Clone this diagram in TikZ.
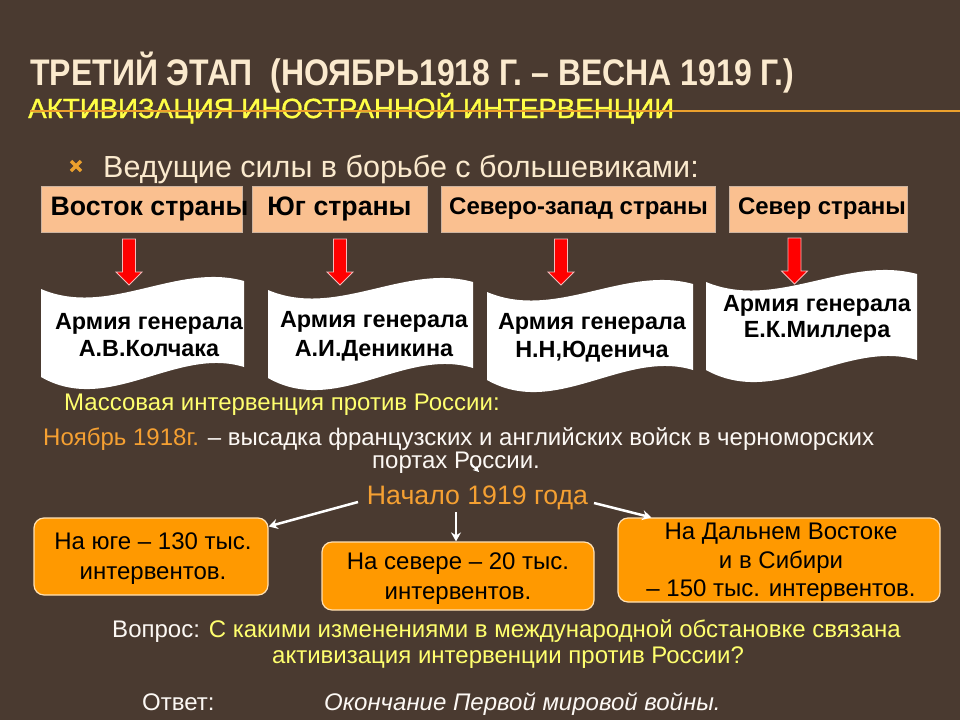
\documentclass[tikz,border=0pt]{standalone}
\usepackage{fontspec}
\setmainfont{Liberation Sans}
\newfontfamily\titlefont[FakeStretch=0.865]{Liberation Sans}
\newfontfamily\subtitlefont[FakeBold=1.2]{Liberation Sans}
\usetikzlibrary{arrows.meta}
\definecolor{bgc}{RGB}{74,58,48}
\definecolor{cream}{RGB}{251,234,206}
\definecolor{ttyel}{RGB}{255,255,70}
\definecolor{yel}{RGB}{255,255,110}
\definecolor{orline}{RGB}{235,160,45}
\definecolor{ortext}{RGB}{245,160,50}
\definecolor{peach}{RGB}{250,192,144}
\definecolor{regbd}{RGB}{205,180,160}
\definecolor{obox}{RGB}{255,153,0}
\definecolor{oboxbd}{RGB}{255,225,180}
\definecolor{wtext}{RGB}{252,248,244}
\definecolor{arrbd}{RGB}{245,185,185}
\newcommand\fsz[2]{\fontsize{#1}{#2}\selectfont}
\newcommand\myscroll[3]{\fill[white] (#1,#3) .. controls ({#1+#2/3},{#3+29}) and ({#1+2*#2/3},{#3-27}) .. ({#1+#2},{#3-8}) -- ({#1+#2},{#3+78}) .. controls ({#1+2*#2/3},{#3+57}) and ({#1+#2/3},{#3+127}) .. (#1,{#3+88}) -- cycle;}
\newcommand\redarrow[2]{\filldraw[fill=red, draw=arrbd, line width=0.8pt] ({#1-6.5},#2) -- ({#1+6.5},#2) -- ({#1+6.5},{#2+33}) -- ({#1+13},{#2+33}) -- (#1,{#2+46}) -- ({#1-13},{#2+33}) -- ({#1-6.5},{#2+33}) -- cycle;}
\tikzset{
  region/.style={draw=regbd, fill=peach, line width=0.8pt, minimum height=46pt, inner sep=0pt, text=black},
  stext/.style={anchor=north, inner sep=0pt, align=center, text=black, font=\bfseries\fsz{23.4}{27}},
  obx/.style={draw=oboxbd, fill=obox, line width=1.2pt, rounded corners=10pt, inner sep=0pt},
  otext/.style={anchor=north, inner sep=0pt, align=center, text=black, font=\fsz{24}{30}},
  plain/.style={inner sep=0pt, font=\fsz{24}{29}},
  warrow/.style={draw=white, line width=2.5pt, -{Stealth[length=9pt,width=10pt]}}
}
\begin{document}
\begin{tikzpicture}[x=1pt,y=-1pt]
\fill[bgc] (0,0) rectangle (960,720);
\useasboundingbox (0,0) rectangle (960,720);
% title
\node (t1) [anchor=base west, inner sep=0pt, text=cream, font=\titlefont\bfseries\fsz{37}{44}] at (30,85) {ТРЕТИЙ ЭТАП\ \ (НОЯБРЬ1918 Г. – ВЕСНА 1919 Г.)};
\node (t2) [anchor=base west, inner sep=0pt, text=ttyel, font=\subtitlefont\fsz{27.7}{34}] at (28,118) {АКТИВИЗАЦИЯ ИНОСТРАННОЙ ИНТЕРВЕНЦИИ};
\draw[orline, line width=2pt] (30,111) -- (960,111);
% bullet
\draw[orline, line width=3.5pt] (71,161) -- (81,171) (81,161) -- (71,171);
\node (lead) [anchor=base west, inner sep=0pt, text=cream, font=\fsz{30.5}{36}] at (103,177) {Ведущие силы в борьбе с большевиками:};
% regions
\node (e) [region, minimum width=201pt, font=\bfseries\fsz{26.7}{30}] at (141.5,209) {\makebox[180pt]{\hspace{16pt}Восток страны}};
\node (s) [region, minimum width=175pt, font=\bfseries\fsz{26.7}{30}] at (339.5,209) {Юг страны};
\node (nw) [region, minimum width=274pt, font=\bfseries\fsz{24}{28}] at (578.5,209) {Северо-запад страны};
\node (n) [region, minimum width=178pt, font=\bfseries\fsz{24}{28}] at (818,209) {\makebox[150pt]{\hspace{8pt}Север страны}};
% red arrows
\redarrow{129}{239}
\redarrow{340}{239}
\redarrow{561}{239}
\redarrow{794.5}{238}
% scrolls
\myscroll{41}{203}{289}
\myscroll{268}{205}{290}
\myscroll{487}{206}{292}
\myscroll{706}{211}{282}
\node (k1) [stext] at (149,313) {Армия генерала\\А.В.Колчака};
\node (k2) [stext, font=\bfseries\fsz{23.4}{29}] at (374,311) {Армия генерала\\А.И.Деникина};
\node (k3) [stext, font=\bfseries\fsz{23.4}{28}] at (592,313) {Армия генерала\\Н.Н,Юденича};
\node (k4) [stext, font=\bfseries\fsz{23.4}{26}] at (817,295) {Армия генерала\\Е.К.Миллера};
% text
\node (mass) [plain, anchor=base west, text=yel] at (64,410) {Массовая интервенция против России:};
\node (nov) [plain, anchor=base west, text=wtext] at (43,445) {\textcolor{ortext}{Ноябрь 1918г.} – высадка французских и английских войск в черноморских};
\node (ports) [plain, anchor=base, text=wtext] at (456,468) {портах России.};
\node (start) [plain, anchor=base, text=ortext, font=\fsz{26.7}{32}] at (477.5,504) {Начало 1919 года};
% orange boxes
\node (bA) [obx, minimum width=234pt, minimum height=77pt] at (151,556.5) {};
\node (bB) [obx, minimum width=272pt, minimum height=68pt] at (458,576) {};
\node (bC) [obx, minimum width=322pt, minimum height=84pt] at (779,560) {};
\node (xA) [otext] at (153,533) {На юге – 130 тыс.\\интервентов.};
\node (xB) [otext] at (458,553) {На севере – 20 тыс.\\интервентов.};
\node (xC) [otext, font=\fsz{24}{28.5}] at (781,523) {На Дальнем Востоке\\и в Сибири\\– 150 тыс. интервентов.};
% white arrows
\coordinate (tS) at (471,464);
\coordinate (tL) at (358,502);
\coordinate (tM) at (456,512);
\coordinate (tR) at (594,503);
\draw[warrow, line width=1.5pt, -{Stealth[length=6pt,width=6pt]}] (tS) -- ++(8,8);
\draw[warrow] (tL) -- ([yshift=-9pt]bA.north east);
\draw[warrow] (tM) -- (tM |- bB.north);
\draw[warrow] (tR) -- ([xshift=34pt]bC.north west);
% question
\node (q1) [plain, anchor=base, text=wtext] at (506.5,637) {Вопрос: \textcolor{yel}{С какими изменениями в международной обстановке связана}};
\node (q2) [plain, anchor=base, text=yel] at (508,663) {активизация интервенции против России?};
\node (al) [plain, anchor=base west, text=wtext] at (142,710) {Ответ:};
\node (ans) [plain, anchor=base west, text=wtext, font=\itshape\fsz{24}{29}] at (324,710) {Окончание Первой мировой войны.};
\end{tikzpicture}
\end{document}
